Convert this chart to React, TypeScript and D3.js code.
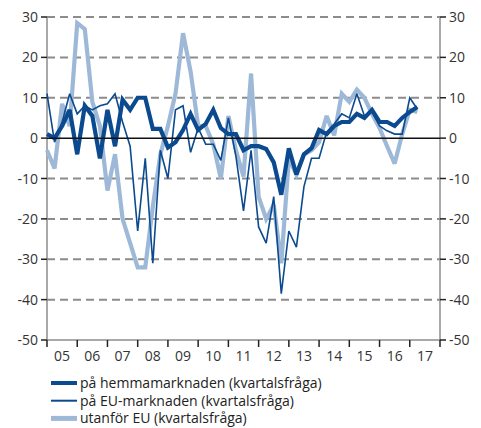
import { useEffect, useRef } from "react"
import * as d3 from "d3"

// kvartalsdata 2005 kv1 - 2017 kv2
const hemma = [1, 0, 3, 7, -4, 8, 5.5, -5, 7, -2, 9.5, 7, 10, 10, 2.3, 2.3, -2.3, -1, 2, 6,
  2, 3.5, 7, 2.5, 1, 1, -3, -2, -2, -2.7, -6, -14, -2.5, -9, -4, -2.5, 2, 1, 3, 4,
  4, 6, 5, 7, 4, 4, 3, 5, 6.5, 7.7]
const eu = [11, -1, 4, 11, 6, 8, 7, 8, 8.5, 11, 4, -2, -23, -5, -31, -3, -10, 7, 8, -3.5,
  2.5, -1.5, -1.5, -5.5, 5, -4.5, -18, -3, -22, -26, -14.5, -38.5, -23, -27, -12, -5, -5, 1.5, 3.5, 6,
  5, 11, 5.5, 6.5, 3, 1.8, 1, 1, 10, 7.2]
const utanfor = [-3, -7.5, 8.5, 3, 28.5, 27, 9, 3, -13, -4, -20, -26, -32, -32, -17, -4, 3, 11, 26, 16.5,
  3, 3, -1.5, -10, 5.5, -3, -9.5, 16, -14.5, -20, -16.5, -31, -5, -9, -4, -3, -1, 5.5, 0.7, 11,
  9, 12, 10, 6, 2.5, -2, -6.3, 1, 7, 6.5]

const years = d3.range(2005, 2018)
const yTicks = [30, 20, 10, 0, -10, -20, -30, -40, -50]

const series = [
  { name: "på hemmamarknaden (kvartalsfråga)", values: hemma, color: "#0b4a8f", width: 4.2, legendWidth: 4 },
  { name: "på EU-marknaden (kvartalsfråga)", values: eu, color: "#0b4a8f", width: 1.6, legendWidth: 2 },
  { name: "utanför EU (kvartalsfråga)", values: utanfor, color: "#9db9d7", width: 4.2, legendWidth: 5 },
]

const App = () => {
  const ref = useRef<SVGSVGElement>(null)

  useEffect(() => {
    const svg = d3.select(ref.current)
    svg.selectAll("*").remove()

    const x = d3.scaleLinear().domain([2005, 2018]).range([47, 440])
    const y = d3.scaleLinear().domain([-50, 30]).range([340, 17])
    const font = "'Open Sans', sans-serif"

    // rutnät
    svg.append("g")
      .selectAll("line")
      .data(yTicks.filter(d => d !== 0 && d !== -50))
      .join("line")
      .attr("x1", x(2005)).attr("x2", x(2018))
      .attr("y1", d => y(d)).attr("y2", d => y(d))
      .attr("stroke", "#8c8c8c")
      .attr("stroke-width", 2)
      .attr("stroke-dasharray", "8,5")

    // axellinjer
    svg.append("line").attr("x1", x(2005)).attr("x2", x(2005)).attr("y1", y(30)).attr("y2", y(-50))
      .attr("stroke", "#8c8c8c").attr("stroke-width", 1.5)
    svg.append("line").attr("x1", x(2018)).attr("x2", x(2018)).attr("y1", y(30)).attr("y2", y(-50))
      .attr("stroke", "#8c8c8c").attr("stroke-width", 1.5)
    svg.append("line").attr("x1", x(2005)).attr("x2", x(2018)).attr("y1", y(-50)).attr("y2", y(-50))
      .attr("stroke", "#8c8c8c").attr("stroke-width", 1.5)

    // y-ticks vänster och höger
    svg.append("g").selectAll("line").data(yTicks).join("line")
      .attr("x1", x(2005) - 6).attr("x2", x(2005))
      .attr("y1", d => y(d)).attr("y2", d => y(d))
      .attr("stroke", "#222").attr("stroke-width", 1.5)
    svg.append("g").selectAll("line").data(yTicks).join("line")
      .attr("x1", x(2018)).attr("x2", x(2018) + 6)
      .attr("y1", d => y(d)).attr("y2", d => y(d))
      .attr("stroke", "#222").attr("stroke-width", 1.5)

    svg.append("g").selectAll("text").data(yTicks).join("text")
      .attr("x", 38).attr("y", d => y(d)).attr("dy", "0.36em")
      .attr("text-anchor", "end")
      .attr("font-family", font).attr("font-size", 14).attr("fill", "#333")
      .text(d => d < 0 ? "-" + Math.abs(d) : String(d))
    svg.append("g").selectAll("text").data(yTicks).join("text")
      .attr("x", 449).attr("y", d => y(d)).attr("dy", "0.36em")
      .attr("text-anchor", "start")
      .attr("font-family", font).attr("font-size", 14).attr("fill", "#333")
      .text(d => d < 0 ? "-" + Math.abs(d) : String(d))

    // x-ticks
    svg.append("g").selectAll("line").data(d3.range(2005, 2019)).join("line")
      .attr("x1", d => x(d)).attr("x2", d => x(d))
      .attr("y1", y(-50)).attr("y2", y(-50) + 7)
      .attr("stroke", "#222").attr("stroke-width", 1.5)
    svg.append("g").selectAll("text").data(years).join("text")
      .attr("x", d => x(d + 0.5)).attr("y", 356).attr("dy", "0.36em")
      .attr("text-anchor", "middle")
      .attr("font-family", font).attr("font-size", 14).attr("fill", "#333")
      .text(d => String(d % 100).padStart(2, "0"))

    // serier
    const line = d3.line<number>()
      .x((_, i) => x(2005 + i / 4))
      .y(d => y(d))

    const order = [series[2], series[1], series[0]]
    svg.append("g").selectAll("path").data(order).join("path")
      .attr("d", d => line(d.values))
      .attr("fill", "none")
      .attr("stroke", d => d.color)
      .attr("stroke-width", d => d.width)
      .attr("stroke-linejoin", "miter")
      .attr("stroke-miterlimit", 3)

    // nollinje
    svg.append("line").attr("x1", x(2005)).attr("x2", x(2018)).attr("y1", y(0)).attr("y2", y(0))
      .attr("stroke", "#111").attr("stroke-width", 1.5)

    // legend
    const legend = svg.append("g").selectAll("g").data(series).join("g")
      .attr("transform", (_, i) => `translate(51,${383 + i * 17.7})`)
    legend.append("line").attr("x1", 0).attr("x2", 26).attr("y1", 0).attr("y2", 0)
      .attr("stroke", d => d.color).attr("stroke-width", d => d.legendWidth)
    legend.append("text").attr("x", 29).attr("y", 0).attr("dy", "0.36em")
      .attr("font-family", font).attr("font-size", 14).attr("fill", "#222")
      .text(d => d.name)
  }, [])

  return (
    <svg ref={ref} width={481} height={428}
      style={{ position: "absolute", left: 0, top: 0, background: "#fff" }} />
  )
}

export default App
